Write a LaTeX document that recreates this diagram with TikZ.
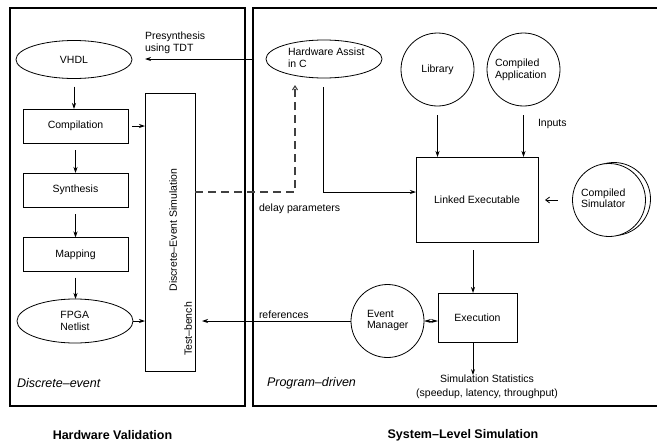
\documentclass[tikz,border=0pt]{standalone}
\usepackage{fontspec}
\setmainfont{Liberation Sans}
\usetikzlibrary{arrows.meta,shapes.geometric}
\begin{document}
\begin{tikzpicture}[x=1pt,y=-1pt,
  font=\fontsize{10.5}{11.5}\selectfont,
  every node/.style={inner sep=0pt, outer sep=0pt},
  box/.style={draw, line width=0.8pt, minimum width=105pt, minimum height=34pt},
  ell/.style={draw, ellipse, line width=0.8pt, minimum width=116pt, minimum height=38pt},
  circ/.style={draw, circle, line width=0.8pt, minimum size=73pt},
  arr/.style={-{Stealth[length=6pt,width=4pt]}, line width=0.8pt},
  frame/.style={line width=2pt},
  lbl/.style={align=left, anchor=west},
  bigit/.style={font=\fontsize{12.5}{14}\selectfont\itshape},
  bigbf/.style={font=\fontsize{12.5}{14}\selectfont\bfseries}]
\useasboundingbox (0,0) rectangle (657,442);
\begin{scope}
  \clip (0,0) rectangle (657,442);
  \draw[frame] (10,8) rectangle (245,406);
  \draw[frame] (253,8) rectangle (690,406);
\end{scope}

% left side
\node[ell] (vhdl) at (74,59.5) {VHDL};
\node[box] (comp) at (75.5,126) {Compilation};
\node[box] (synth) at (75.5,190) {Synthesis};
\node[box] (map) at (75.5,254.5) {Mapping};
\node[ell, minimum height=44pt, align=left] (fpga) at (75,321) {FPGA\\Netlist};
\node[draw, line width=0.8pt, minimum width=50pt, minimum height=278pt] (tb) at (170,232) {};
\node[rotate=90] (tbt1) at (173,230) {Discrete–Event Simulation};
\node[rotate=90] (tbt2) at (188,329) {Test–bench};

\draw[arr, shorten <=8pt] (vhdl.south) -- (vhdl.south |- comp.north);
\draw[arr, shorten <=7pt] (comp.south) -- (synth.north);
\draw[arr, shorten <=7pt] (synth.south) -- (map.north);
\draw[arr, shorten <=6pt] (map.south) -- (map.south |- fpga.north);
\draw[arr, shorten <=4pt] (comp.east) -- (comp.east -| tb.west);
\draw[arr] (fpga.east) -- (fpga.east -| tb.west);

% right side
\node[ell] (hw) at (324,59) {};
\node[lbl] (hwt) at (288,57.5) {Hardware Assist\\in C};
\draw[arr, shorten <=12pt, shorten >=13pt] (hw.west) -- (hw.west -| vhdl.east);
\node[align=left, anchor=north west] (pres) at (145,32) {Presynthesis\\using TDT};

\node[circ] (lib) at (437.5,69.5) {Library};
\node[circ] (capp) at (523.5,69.5) {};
\node[lbl] (cappt) at (495,70) {Compiled\\Application};
\node[draw, line width=0.8pt, minimum width=122pt, minimum height=85pt] (link) at (477,199.5) {Linked Executable};
\draw[arr, shorten <=9pt] (lib.south) -- (lib.south |- link.north);
\draw[arr, shorten <=9pt] (capp.south) -- (capp.south |- link.north);
\node[anchor=west] (inputs) at (538,124) {Inputs};

\node[circ] (csimb) at (614,199) {};
\node[circ, fill=white] (csim) at (609,200) {};
\node[lbl] (csimt) at (581,198) {Compiled\\Simulator};
\draw[-{Straight Barb[length=4pt,width=6pt]}, line width=0.8pt, shorten <=15pt, shorten >=7pt] (csim.west) -- (csim.west -| link.east);

% hardware assist connectors
\coordinate (hwo) at (323,87);
\coordinate (hwc) at (323,192);
\draw[arr] (hwo) -- (hwc) -- (hwc -| link.west);
\coordinate (dtop) at (295,85);
\coordinate (dc) at (295,192);
\draw[line width=1.1pt, black!75, dash pattern=on 8pt off 5pt, -{Straight Barb[length=4pt,width=5pt]}] (dc -| tb.east) -- (dc) -- (dtop);
\node[anchor=west] (delay) at (259,209) {delay parameters};

% execution
\node[draw, line width=0.8pt, minimum width=79pt, minimum height=49pt] (exec) at (477.5,317.5) {Execution};
\draw[arr, shorten <=8pt] ([xshift=-4pt]link.south) -- ([xshift=-4pt]link.south |- exec.north);
\node[align=center, font=\fontsize{10.5}{14}\selectfont] (stats) at (487,387) {Simulation Statistics\\(speedup, latency, throughput)};
\draw[arr] ([xshift=-4.5pt]exec.south) -- ([xshift=-4.5pt]exec.south |- stats.north);

\node[circ] (em) at (387.5,321) {};
\node[lbl] (emt) at (367,320.5) {Event\\Manager};
\draw[{Stealth[length=7pt,width=4pt]}-{Stealth[length=7pt,width=4pt]}, line width=0.8pt] (em.east) -- (em.east -| exec.west);
\draw[arr, shorten >=7pt] (em.west) -- (em.west -| tb.east);
\node[anchor=west] (refs) at (259,315) {references};

% region labels
\node[anchor=west, bigit] (de) at (17,383) {Discrete–event};
\node[anchor=west, bigit] (pd) at (267,383) {Program–driven};
\node[bigbf] (hv) at (112.5,435) {Hardware Validation};
\node[bigbf] (sl) at (463,435) {System–Level Simulation};
\end{tikzpicture}
\end{document}
